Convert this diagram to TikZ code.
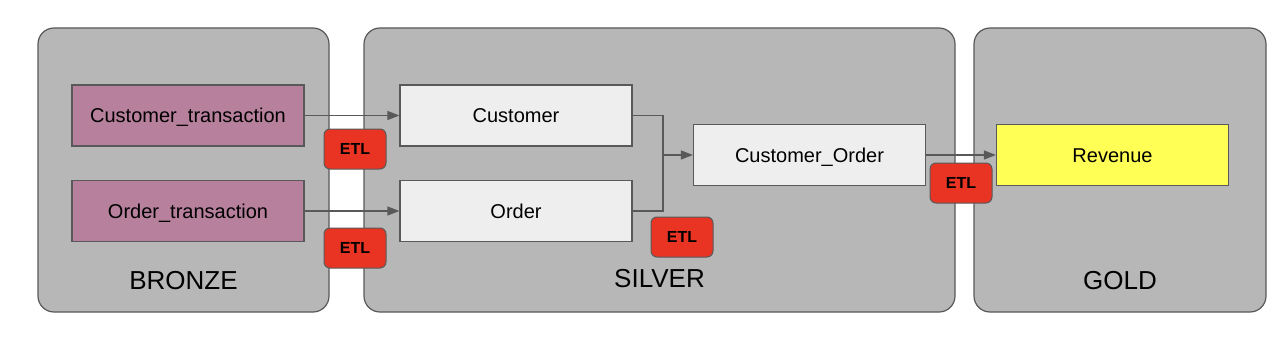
\documentclass[tikz,border=0pt]{standalone}
\usepackage{fontspec}
\setmainfont{Liberation Sans}
\usetikzlibrary{arrows.meta}

\definecolor{grigio}{RGB}{183,183,183}
\definecolor{bordo}{RGB}{89,89,89}
\definecolor{malva}{RGB}{183,128,156}
\definecolor{chiaro}{RGB}{238,238,238}
\definecolor{giallo}{RGB}{255,255,85}
\definecolor{rosso}{RGB}{233,52,36}

\begin{document}
\begin{tikzpicture}[x=1pt, y=-1pt,
    livello/.style={draw=bordo, line width=1.2pt, fill=grigio, rounded corners=16pt,
        minimum width=#1, minimum height=284pt, inner sep=0pt},
    tabella/.style={draw=bordo, line width=1.2pt, fill=#1, minimum width=232pt,
        minimum height=61pt, inner sep=0pt, text height=14.4pt, text depth=0pt,
        font=\fontsize{20}{24}\selectfont},
    etl/.style={draw=bordo, line width=1pt, fill=rosso, rounded corners=6pt,
        minimum width=62pt, minimum height=40pt, inner sep=0pt,
        text height=11.5pt, text depth=0pt,
        font=\fontsize{16}{18}\selectfont\bfseries},
    nome/.style={text height=18.7pt, text depth=0pt, font=\fontsize{26}{30}\selectfont},
    linea/.style={draw=bordo, line width=1.2pt},
    freccia/.style={linea, -{Triangle[length=12pt, width=9pt]}}]

    \useasboundingbox (0,0) rectangle (1280,353);

    % Livelli
    \node[livello=291pt] (bronze) at (183.5,170) {};
    \node[livello=591pt] (silver) at (659.5,170) {};
    \node[livello=292pt] (gold) at (1120,170) {};
    \node[nome] (tbronze) at (183.5,280) {BRONZE};
    \node[nome] (tsilver) at (659.5,278) {SILVER};
    \node[nome] (tgold) at (1120,280) {GOLD};

    % Tabelle
    \node[tabella=malva] (custtx) at (188,115.5) {Customer\_transaction};
    \node[tabella=malva] (ordtx) at (188,211) {Order\_transaction};
    \node[tabella=chiaro] (cust) at (516,115.5) {Customer};
    \node[tabella=chiaro] (ord) at (516,211) {Order};
    \node[tabella=chiaro] (custord) at (809.5,155) {Customer\_Order};
    \node[tabella=giallo] (rev) at (1112.5,155) {Revenue};

    % Collegamenti
    \coordinate (giunto) at (663,155);
    \draw[freccia] (custtx) -- (cust);
    \draw[freccia] (ordtx) -- (ord);
    \draw[linea] (cust.east) -| (giunto);
    \draw[linea] (ord.east) -| (giunto);
    \draw[freccia] (giunto) -- (custord.west);
    \draw[freccia] (custord) -- (rev);

    % Passaggi ETL
    \node[etl] (etla) at (355,149) {ETL};
    \node[etl] (etlb) at (355,248) {ETL};
    \node[etl] (etlc) at (682,237) {ETL};
    \node[etl] (etld) at (961,183) {ETL};

\end{tikzpicture}
\end{document}
